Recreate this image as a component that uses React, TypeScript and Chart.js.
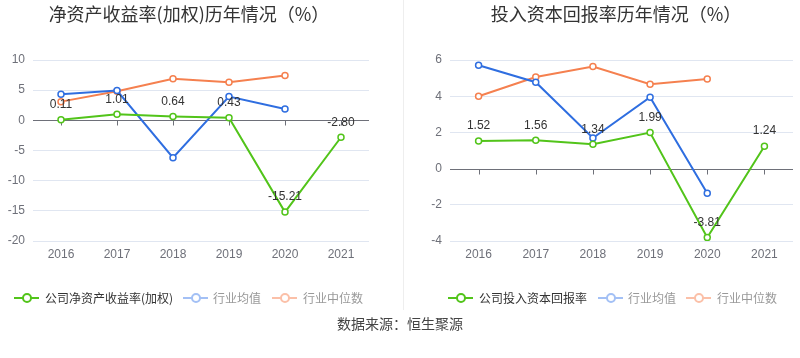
import React, { useEffect, useRef } from "react";
import { Chart, registerables } from "chart.js";

Chart.register(...registerables);

const years = ["2016", "2017", "2018", "2019", "2020", "2021"];

const roeCompany = [0.11, 1.01, 0.64, 0.43, -15.21, -2.8];
const roeIndustryAvg = [4.33, 4.94, -6.2, 3.94, 1.89, null];
const roeIndustryMedian = [3.1, 4.83, 6.9, 6.33, 7.44, null];

const roicCompany = [1.52, 1.56, 1.34, 1.99, -3.81, 1.24];
const roicIndustryAvg = [5.71, 4.77, 1.69, 3.94, -1.36, null];
const roicIndustryMedian = [4.0, 5.06, 5.64, 4.66, 4.95, null];

const GREEN = "#52c41a";
const BLUE = "#2f6ee0";
const ORANGE = "#f5804f";
const FONT = "'Liberation Sans', 'Noto Sans CJK SC', sans-serif";
const CJK = "'Noto Sans CJK SC', 'Liberation Sans', sans-serif";

const zeroLinePlugin = {
  id: "zeroLine",
  beforeDatasetsDraw(chart: any) {
    const { ctx, chartArea, scales } = chart;
    const y = Math.round(scales.y.getPixelForValue(0)) + 0.5;
    ctx.save();
    ctx.strokeStyle = "#6e7079";
    ctx.lineWidth = 1;
    ctx.beginPath();
    ctx.moveTo(chartArea.left, y);
    ctx.lineTo(chartArea.right, y);
    for (let i = 0; i < chart.data.labels.length; i++) {
      const x = Math.round(scales.x.getPixelForValue(i)) + 0.5;
      ctx.moveTo(x, y);
      ctx.lineTo(x, y + 5);
    }
    ctx.stroke();
    ctx.restore();
  },
};

const dataLabelPlugin = {
  id: "dataLabels",
  afterDatasetsDraw(chart: any) {
    const { ctx } = chart;
    const meta = chart.getDatasetMeta(0);
    const data = chart.data.datasets[0].data;
    ctx.save();
    ctx.font = `12px ${FONT}`;
    ctx.fillStyle = "#333";
    ctx.textAlign = "center";
    ctx.textBaseline = "middle";
    meta.data.forEach((pt: any, i: number) => {
      const v = data[i];
      if (v == null) return;
      ctx.fillText(Number(v).toFixed(2), pt.x, pt.y - 15);
    });
    ctx.restore();
  },
};

function makeConfig(
  company: (number | null)[],
  avg: (number | null)[],
  median: (number | null)[],
  min: number,
  max: number,
  step: number,
  yWidth: number,
  rightPad: number
): any {
  const ds = (data: (number | null)[], color: string) => ({
    data,
    borderColor: color,
    backgroundColor: "#fff",
    pointBackgroundColor: "#fff",
    pointBorderColor: color,
    pointRadius: 3,
    pointBorderWidth: 1.5,
    borderWidth: 2,
    tension: 0,
    spanGaps: false,
  });
  return {
    type: "line",
    data: {
      labels: years,
      datasets: [ds(company, GREEN), ds(avg, BLUE), ds(median, ORANGE)],
    },
    options: {
      responsive: false,
      animation: false,
      layout: { padding: { top: 60, bottom: 0, left: 0, right: rightPad } },
      plugins: { legend: { display: false }, tooltip: { enabled: false } },
      scales: {
        x: {
          offset: true,
          grid: { display: false, drawTicks: false },
          border: { display: false },
          ticks: { color: "#6e7079", font: { size: 12, family: FONT }, padding: 6, maxRotation: 0 },
          afterFit(scale: any) {
            scale.height = 29;
          },
        },
        y: {
          min,
          max,
          ticks: { stepSize: step, color: "#6e7079", font: { size: 12, family: FONT }, padding: 8 },
          grid: {
            drawTicks: false,
            color: (c: any) => (c.tick && c.tick.value === 0 ? "rgba(0,0,0,0)" : "#e0e6f1"),
          },
          border: { display: false },
          afterFit(scale: any) {
            scale.width = yWidth;
          },
        },
      },
    },
    plugins: [zeroLinePlugin, dataLabelPlugin],
  };
}

function LegendItem({ x, textX, color, text, textColor }: any) {
  return (
    <>
      <div style={{ position: "absolute", left: x, top: 297, width: 25, height: 2, background: color }} />
      <div
        style={{
          position: "absolute",
          left: x + 7.5,
          top: 293,
          width: 6,
          height: 6,
          border: `2px solid ${color}`,
          borderRadius: "50%",
          background: "#fff",
        }}
      />
      <div
        style={{
          position: "absolute",
          left: textX,
          top: 290,
          height: 16,
          lineHeight: "16px",
          fontSize: 12,
          fontFamily: CJK,
          color: textColor,
          whiteSpace: "nowrap",
        }}
      >
        {text}
      </div>
    </>
  );
}

export default function App() {
  const leftRef = useRef<HTMLCanvasElement>(null);
  const rightRef = useRef<HTMLCanvasElement>(null);

  useEffect(() => {
    const c1 = new Chart(
      leftRef.current as HTMLCanvasElement,
      makeConfig(roeCompany, roeIndustryAvg, roeIndustryMedian, -20, 10, 5, 33, 31)
    );
    const c2 = new Chart(
      rightRef.current as HTMLCanvasElement,
      makeConfig(roicCompany, roicIndustryAvg, roicIndustryMedian, -4, 6, 2, 50, 7)
    );
    return () => {
      c1.destroy();
      c2.destroy();
    };
  }, []);

  const titleStyle: React.CSSProperties = {
    position: "absolute",
    top: 0,
    height: 26,
    lineHeight: "26px",
    fontSize: 18,
    fontFamily: CJK,
    color: "#333",
    textAlign: "center",
    whiteSpace: "nowrap",
  };

  return (
    <div style={{ position: "fixed", left: 0, top: 0, width: 800, height: 358, background: "#fff", overflow: "hidden" }}>
      <canvas ref={leftRef} width={400} height={270} style={{ position: "absolute", left: 0, top: 0 }} />
      <canvas ref={rightRef} width={400} height={270} style={{ position: "absolute", left: 400, top: 0 }} />
      <div style={{ position: "absolute", left: 403, top: 0, width: 1, height: 310, background: "#eeeeee" }} />
      <div style={{ ...titleStyle, left: 0, width: 378 }}>净资产收益率(加权)历年情况（%）</div>
      <div style={{ ...titleStyle, left: 424, width: 384 }}>投入资本回报率历年情况（%）</div>

      <LegendItem x={14} textX={45} color={GREEN} text="公司净资产收益率(加权)" textColor="#333" />
      <LegendItem x={183} textX={213} color="#a3c0f5" text="行业均值" textColor="#999" />
      <LegendItem x={272} textX={303} color="#fbc0a8" text="行业中位数" textColor="#999" />

      <LegendItem x={448} textX={479} color={GREEN} text="公司投入资本回报率" textColor="#333" />
      <LegendItem x={598} textX={628} color="#a3c0f5" text="行业均值" textColor="#999" />
      <LegendItem x={686} textX={717} color="#fbc0a8" text="行业中位数" textColor="#999" />

      <div
        style={{
          position: "absolute",
          left: 0,
          width: 800,
          top: 314,
          height: 18,
          lineHeight: "18px",
          fontSize: 14,
          fontFamily: CJK,
          color: "#444",
          textAlign: "center",
        }}
      >
        数据来源：恒生聚源
      </div>
    </div>
  );
}
